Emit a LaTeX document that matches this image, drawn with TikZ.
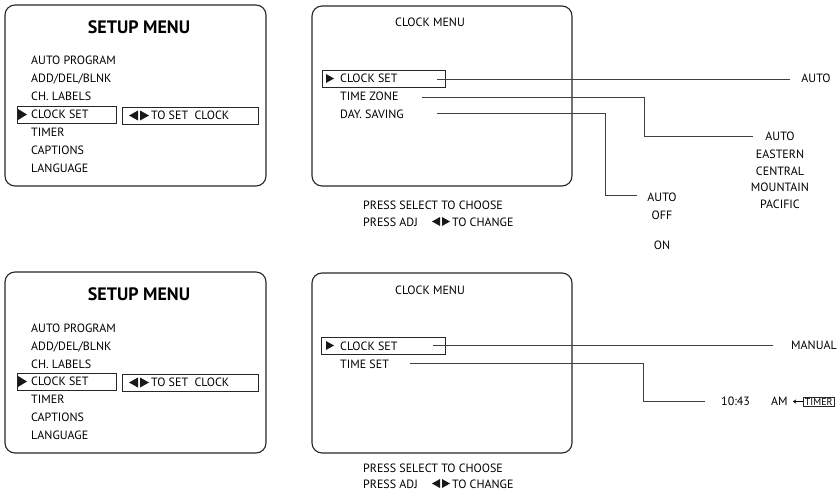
\documentclass[tikz,border=0pt]{standalone}
\usepackage{fontspec}
\setmainfont{PT Sans}
\usetikzlibrary{arrows.meta}
\tikzset{
  menubox/.style={draw=black!85, line width=1.1pt, rounded corners=10pt},
  selbox/.style={draw=black!85, line width=0.9pt},
  txt/.style={anchor=base west, inner sep=0pt, font=\fontsize{12}{14}\selectfont, text=black},
  ctxt/.style={anchor=base, inner sep=0pt, font=\fontsize{12}{14}\selectfont, text=black},
  ttl/.style={anchor=base, inner sep=0pt, font=\fontsize{18}{20}\selectfont\bfseries, text=black},
  conn/.style={draw=black!75, line width=0.9pt},
  tri/.style={fill=black!90}
}
\begin{document}
\begin{tikzpicture}[x=1pt,y=-1pt]
\useasboundingbox (0,0) rectangle (840,492);
% ================= TOP =================
\draw[menubox] (5,5) rectangle (266,186);
\node[ttl] (t1) at (139,33.5) {SETUP MENU};
\node[txt] (a1) at (31,65) {AUTO PROGRAM};
\node[txt] (a2) at (31,83) {ADD/DEL/BLNK};
\node[txt] (a3) at (31,101) {CH. LABELS};
\node[txt] (a4) at (31,118.5) {CLOCK SET};
\node[txt] (a5) at (31,136) {TIMER};
\node[txt] (a6) at (31,154) {CAPTIONS};
\node[txt] (a7) at (31,172) {LANGUAGE};
\draw[selbox] (17,106) rectangle (116,123);
\fill[tri] (18,109) -- (27,114.5) -- (18,120) -- cycle;
\draw[selbox] (122,107) rectangle (258,124);
\fill[tri] (138,110.5) -- (129,115.5) -- (138,120.5) -- cycle;
\fill[tri] (140,110.5) -- (149,115.5) -- (140,120.5) -- cycle;
\node[txt] (b1) at (151,119.5) {TO SET\ \ CLOCK};

\draw[menubox] (312,6) rectangle (572,186);
\node[ctxt] (c0) at (430,27) {CLOCK MENU};
\draw[selbox] (322,70) rectangle (445,87);
\fill[tri] (326,74) -- (334,78.5) -- (326,83) -- cycle;
\node[txt] (c1) at (340,83) {CLOCK SET};
\node[txt] (c2) at (340,101) {TIME ZONE};
\node[txt] (c3) at (340,118) {DAY. SAVING};
\node[txt] (p1) at (363,209) {PRESS SELECT TO CHOOSE};
\node[txt] (p2) at (363,226) {PRESS ADJ};
\fill[tri] (440,217) -- (432,221.5) -- (440,226) -- cycle;
\fill[tri] (442,217) -- (450,221.5) -- (442,226) -- cycle;
\node[txt] (p3) at (452,226) {TO CHANGE};

\coordinate (s1) at (437,79);
\coordinate (s2) at (422,97);
\coordinate (s3) at (437,113.5);
\node[ctxt] (o1) at (816,83) {AUTO};
\node[ctxt] (o21) at (780,140) {AUTO};
\node[ctxt] (o22) at (780,158) {EASTERN};
\node[ctxt] (o23) at (780,175) {CENTRAL};
\node[ctxt] (o24) at (780,191.5) {MOUNTAIN};
\node[ctxt] (o25) at (780,208.5) {PACIFIC};
\node[ctxt] (o31) at (662,201) {AUTO};
\node[ctxt] (o32) at (662,219) {OFF};
\node[ctxt] (o4) at (662,249) {ON};
\draw[conn] (s1) -- (790,79);
\draw[conn] (s2) -- (644,97) -- (644,136) -- (753,136);
\draw[conn] (s3) -- (605,113.5) -- (605,195) -- (637,195);

% ================= BOTTOM =================
\draw[menubox] (5,272) rectangle (266,453);
\node[ttl] (t2) at (139,300.5) {SETUP MENU};
\node[txt] (d1) at (31,332) {AUTO PROGRAM};
\node[txt] (d2) at (31,350) {ADD/DEL/BLNK};
\node[txt] (d3) at (31,368) {CH. LABELS};
\node[txt] (d4) at (31,385.5) {CLOCK SET};
\node[txt] (d5) at (31,403) {TIMER};
\node[txt] (d6) at (31,421) {CAPTIONS};
\node[txt] (d7) at (31,439) {LANGUAGE};
\draw[selbox] (17,373) rectangle (116,390);
\fill[tri] (18,376) -- (27,381.5) -- (18,387) -- cycle;
\draw[selbox] (122,374) rectangle (258,391);
\fill[tri] (138,377.5) -- (129,382.5) -- (138,387.5) -- cycle;
\fill[tri] (140,377.5) -- (149,382.5) -- (140,387.5) -- cycle;
\node[txt] (e1) at (151,386.5) {TO SET\ \ CLOCK};

\draw[menubox] (312,273) rectangle (572,453);
\node[ctxt] (f0) at (430,294) {CLOCK MENU};
\draw[selbox] (321,337) rectangle (445,354);
\fill[tri] (326,341) -- (334,345.5) -- (326,350) -- cycle;
\node[txt] (f1) at (340,350) {CLOCK SET};
\node[txt] (f2) at (340,368) {TIME SET};
\node[txt] (q1) at (363,472) {PRESS SELECT TO CHOOSE};
\node[txt] (q2) at (363,488) {PRESS ADJ};
\fill[tri] (440,479) -- (432,483.5) -- (440,488) -- cycle;
\fill[tri] (442,479) -- (450,483.5) -- (442,488) -- cycle;
\node[txt] (q3) at (452,488) {TO CHANGE};

\coordinate (u1) at (433,345.5);
\coordinate (u2) at (410,363.5);
\node[txt] (m1) at (791,349.5) {MANUAL};
\node[txt] (m2) at (721,405.5) {10:43};
\node[txt] (m3) at (771,405.5) {AM};
\node[draw=black!85, line width=0.8pt, inner xsep=1.5pt, inner ysep=1pt, font=\fontsize{10}{11}\selectfont, text=black, anchor=west] (tm) at (803,401.5) {TIMER};
\draw[line width=0.7pt, -{Stealth[length=3pt,width=4pt]}] (tm.west) -- (793,401.5);
\draw[conn] (u1) -- (773,345.5);
\draw[conn] (u2) -- (643,363.5) -- (643,401) -- (705,401);
\end{tikzpicture}
\end{document}
